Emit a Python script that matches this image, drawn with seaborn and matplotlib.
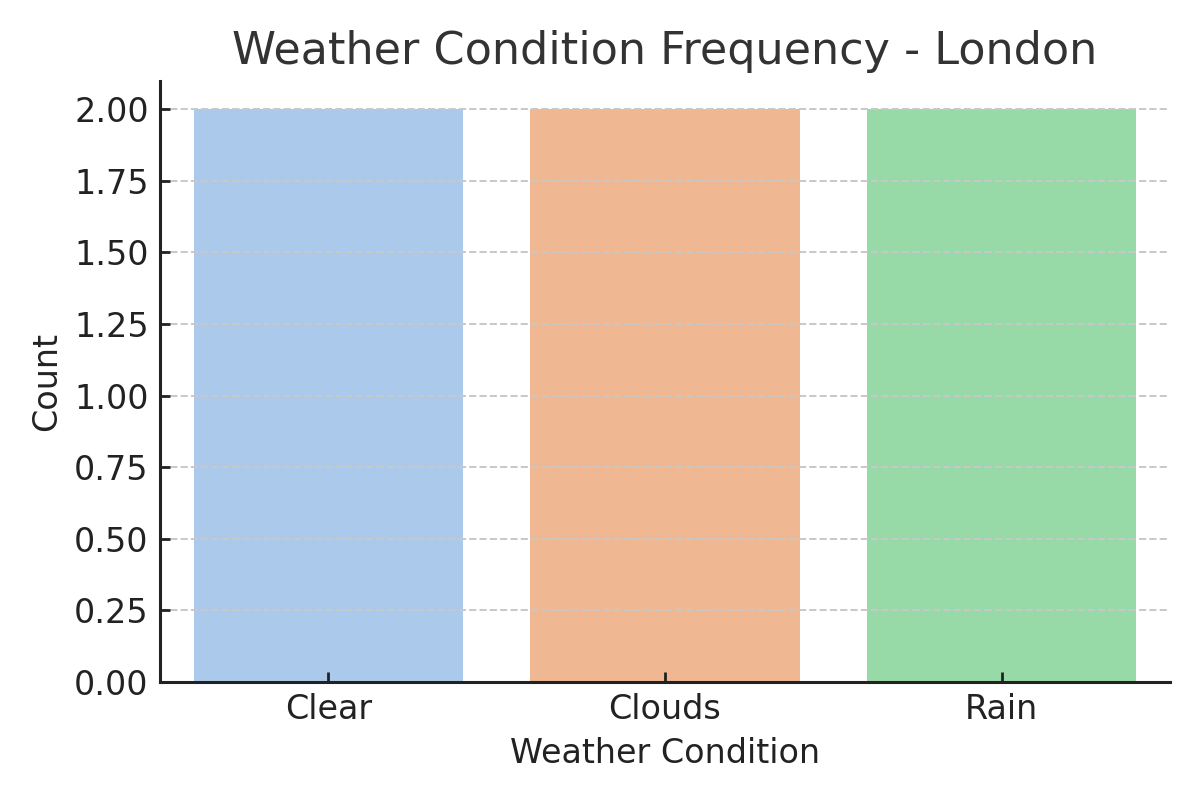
import pandas as pd
import seaborn as sns
import matplotlib.pyplot as plt

conditions = ['Clear', 'Clouds', 'Rain']
counts = [2, 2, 2]

data = pd.DataFrame({'Condition': conditions, 'Count': counts})

sns.set_style('ticks')
plt.rcParams['font.family'] = ['DejaVu Sans']

fig, ax = plt.subplots(figsize=(6, 4), dpi=200)
sns.barplot(data=data, x='Condition', y='Count', hue='Condition',
            palette='pastel', legend=False, ax=ax, linewidth=0)

ax.set_title('Weather Condition Frequency - London', fontsize=16, color='#333333')
ax.set_xlabel('Weather Condition', fontsize=12, color='#222222')
ax.set_ylabel('Count', fontsize=12, color='#222222')
ax.tick_params(labelsize=12, colors='#222222', direction='in', length=3.5,
               width=1.0, pad=4)
ax.set_ylim(0, 2.1)
ax.set_yticks([0, 0.25, 0.5, 0.75, 1.0, 1.25, 1.5, 1.75, 2.0])
ax.yaxis.set_major_formatter(plt.FormatStrFormatter('%.2f'))
ax.set_axisbelow(False)
ax.grid(axis='y', linestyle='--', linewidth=0.7, color='#c8c8c8')
for side in ['left', 'bottom']:
    ax.spines[side].set_linewidth(1.1)
    ax.spines[side].set_color('#222222')
    ax.spines[side].set_zorder(5)
sns.despine(ax=ax)

plt.tight_layout()
plt.savefig('out.png')
plt.close()
